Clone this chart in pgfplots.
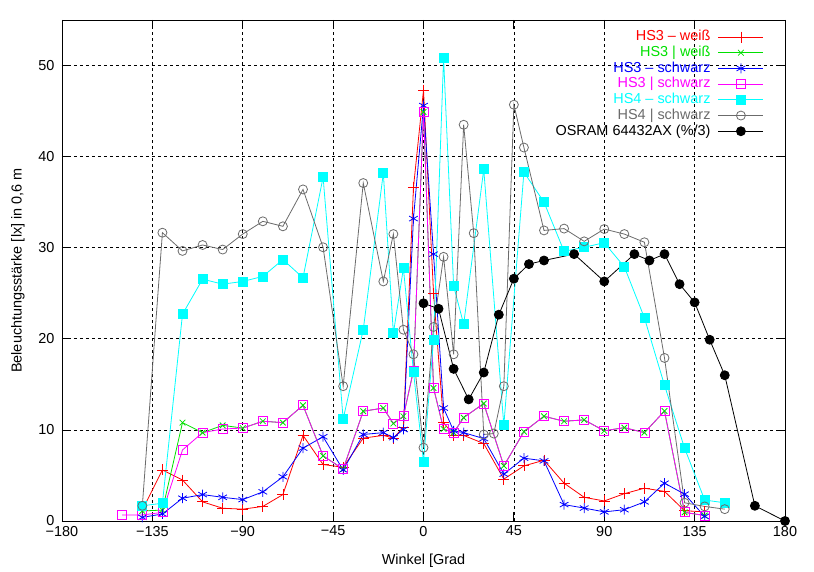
\documentclass[border=0pt]{standalone}
\usepackage{fontspec}
\setmainfont{Liberation Sans}
\usepackage{pgfplots}
\pgfplotsset{compat=1.18}
\definecolor{hsred}{HTML}{FF0000}
\definecolor{hsgreen}{HTML}{00E000}
\definecolor{hsblue}{HTML}{0000FF}
\definecolor{hsmag}{HTML}{FF00FF}
\definecolor{hscyan}{HTML}{00FFFF}
\definecolor{hsgray}{HTML}{6B6B6B}

\begin{document}
\begin{tikzpicture}
\begin{axis}[
  name=main,
  scale only axis, width=723bp, height=501bp,
  xmin=-180, xmax=180, ymin=0, ymax=55,
  xtick={-180,-135,-90,-45,0,45,90,135,180},
  xticklabels={−180,−135,−90,−45,0,45,90,135,180},
  ytick={0,10,20,30,40,50},
  /pgf/number format/assume math mode=true,
  tick pos=both, tick align=inside, major tick length=9bp,
  tick style={black, line width=0.8bp},
  axis line style={line width=0.8bp},
  grid=major,
  major grid style={black, line width=0.7bp, dash pattern=on 3bp off 3bp},
  ticklabel style={font=\fontsize{14.5}{17}\selectfont},
  yticklabel style={xshift=-4bp},
  xticklabel style={yshift=-1.5bp},
  label style={font=\fontsize{14.5}{17}\selectfont},
  xlabel={Winkel [Grad},
  ylabel={Beleuchtungsstärke [lx] in 0,6 m},
  xlabel style={at={(axis description cs:0.5,-0.08)}, anchor=center},
  ylabel style={at={(axis description cs:-0.061,0.5)}, anchor=center},
  legend plot pos=right,
  legend cell align=right,
  legend style={draw=none, fill=none, at={(1,1)}, anchor=north east,
    xshift=-18bp, yshift=-7bp, column sep=6bp,
    font=\fontsize{14.5}{17}\selectfont,
    nodes={inner sep=1.5bp, text height=10.2bp, text depth=2.5bp}},
  legend image code/.code={\draw[mark repeat=2,mark phase=2,#1]
    plot coordinates {(0bp,0bp) (22.5bp,0bp) (45bp,0bp)};},
  every axis plot/.append style={line width=0.8bp, mark options={solid}},
]
% HS3 - weiss
\addplot[hsred, mark=+, mark size=5.5bp] coordinates {
(-140,1.2) (-130,5.6) (-120,4.5) (-110,2.1) (-100,1.4) (-90,1.3) (-80,1.6)
(-70,2.9) (-60,9.4) (-50,6.2) (-40,5.9) (-30,9.1) (-20,9.4) (-15,9.1)
(-10,10.3) (-5,36.6) (0,47.3) (5,25) (10,10.8) (15,9.4) (20,9.4) (30,8.5)
(40,4.6) (50,6.05) (60,6.67) (70,4.15) (80,2.6) (90,2.2) (100,3.0)
(110,3.6) (120,3.25) (130,1.13) (140,1.0)};
\addlegendentry{\textcolor{hsred}{HS3 – weiß}}
% HS3 | weiss
\addplot[hsgreen, mark=x, mark size=4bp] coordinates {
(-140,1.1) (-130,1.2) (-120,10.8) (-110,9.7) (-100,10.5) (-90,10.2)
(-80,10.95) (-70,10.8) (-60,12.7) (-50,7.15) (-40,5.7) (-30,12.05)
(-20,12.4) (-15,10.7) (-10,11.5) (-5,16.5) (0,44.9) (5,14.6) (10,10.1)
(15,9.7) (20,11.35) (30,12.9) (40,6.05) (50,9.8) (60,11.5) (70,10.95)
(80,11.1) (90,9.9) (100,10.25) (110,9.7) (120,12.07) (130,0.95) (140,0.6)};
\addlegendentry{\textcolor{hsgreen}{HS3 | weiß}}
% HS3 - schwarz
\addplot[hsblue, mark=asterisk, mark size=5bp] coordinates {
(-140,0.4) (-130,0.77) (-120,2.5) (-110,2.9) (-100,2.6) (-90,2.35)
(-80,3.2) (-70,4.85) (-60,8.0) (-50,9.25) (-40,5.6) (-30,9.5) (-20,9.7)
(-15,9.15) (-10,10.05) (-5,33.2) (0,45.6) (5,29.3) (10,12.4) (15,9.9)
(20,9.7) (30,9.05) (40,5.15) (50,6.9) (60,6.6) (70,1.8) (80,1.42)
(90,1.0) (100,1.24) (110,2.1) (120,4.15) (130,2.95) (140,0.5)};
\addlegendentry{\textcolor{hsblue}{HS3 – schwarz}}
% HS3 | schwarz
\addplot[hsmag, mark=square, mark size=4.5bp] coordinates {
(-150,0.66) (-140,0.66) (-130,0.95) (-120,7.8) (-110,9.7) (-100,10.1)
(-90,10.2) (-80,10.95) (-70,10.8) (-60,12.7) (-50,7.15) (-40,5.7)
(-30,12.05) (-20,12.4) (-15,10.7) (-10,11.5) (-5,16.5) (0,44.9) (5,14.6)
(10,10.1) (15,9.7) (20,11.35) (30,12.9) (40,6.05) (50,9.8) (60,11.5)
(70,10.95) (80,11.1) (90,9.9) (100,10.25) (110,9.7) (120,12.07)
(130,0.95) (140,0.6)};
\addlegendentry{\textcolor{hsmag}{HS3 | schwarz}}
% HS4 - schwarz
\addplot[hscyan, mark=square*, mark size=4.5bp] coordinates {
(-140,1.67) (-130,1.95) (-120,22.7) (-110,26.55) (-100,26.0) (-90,26.3)
(-80,26.85) (-70,28.7) (-60,26.7) (-50,37.75) (-40,11.2) (-30,21.0)
(-20,38.2) (-15,20.6) (-10,27.75) (-5,16.4) (0,6.5) (5,19.9) (10,50.8)
(15,25.8) (20,21.6) (30,38.6) (40,10.5) (50,38.3) (60,35.0) (70,29.6)
(80,30.05) (90,30.55) (100,27.9) (110,22.3) (120,14.9) (130,8.0)
(140,2.3) (150,2.0)};
\addlegendentry{\textcolor{hscyan}{HS4 – schwarz}}
% HS4 | schwarz
\addplot[hsgray, mark=o, mark size=4.5bp] coordinates {
(-140,1.67) (-130,31.65) (-120,29.65) (-110,30.3) (-100,29.8) (-90,31.5)
(-80,32.9) (-70,32.35) (-60,36.4) (-50,30.05) (-40,14.8) (-30,37.1)
(-20,26.3) (-15,31.5) (-10,21.0) (-5,18.3) (0,8.05) (5,21.3) (10,29.0)
(15,18.3) (20,43.5) (25,31.6) (30,9.5) (35,9.6) (40,14.8) (45,45.7)
(50,41.0) (60,31.9) (70,32.1) (80,30.7) (90,32.05) (100,31.5) (110,30.6)
(120,17.9) (130,2.0) (140,1.6) (150,1.3)};
\addlegendentry{\textcolor{hsgray}{HS4 | schwarz}}
% OSRAM 64432AX (%/3)
\addplot[black, mark=*, mark size=4.5bp] coordinates {
(0,23.9) (7.5,23.3) (15,16.7) (22.5,13.35) (30,16.3) (37.5,22.65)
(45,26.6) (52.5,28.2) (60,28.6) (75,29.3) (90,26.3) (105,29.3)
(112.5,28.6) (120,29.3) (127.5,26.0) (135,24.0) (142.5,19.9) (150,16.0)
(165,1.67) (180,0)};
\addlegendentry{OSRAM 64432AX (\%/3)}
\end{axis}
\pgfresetboundingbox
\path (main.south west) ++(-62bp,-51bp) rectangle ++(814bp,572bp);
\end{tikzpicture}
\end{document}
